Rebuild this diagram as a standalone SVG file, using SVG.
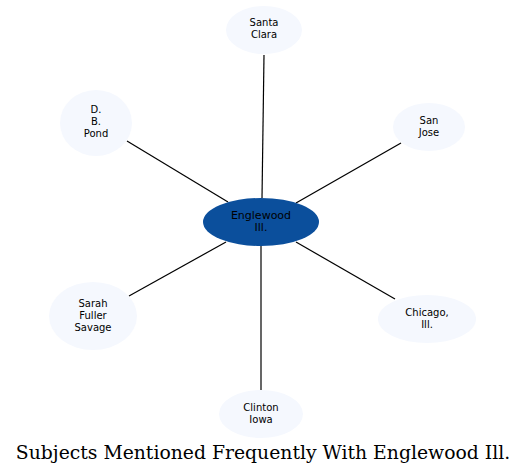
<svg xmlns="http://www.w3.org/2000/svg" width="527" height="476" viewBox="0 0 527 476">
<style>
.n{fill:#f5f8fe;stroke:none}
.c{fill:#0b4f9c;stroke:none}
.t{font-family:"DejaVu Sans",sans-serif;font-size:10px;fill:#000;text-anchor:middle}
.tc{font-family:"DejaVu Sans",sans-serif;font-size:11px;fill:#000;text-anchor:middle}
.e{stroke:#000;stroke-width:1.2;fill:none}
.title{font-family:"DejaVu Serif",serif;font-size:18.8px;fill:#000;text-anchor:middle}
</style>
<rect width="527" height="476" fill="#fff"/>
<g id="edges">
<line class="e" x1="262" y1="198" x2="264" y2="55"/>
<line class="e" x1="296" y1="203" x2="401" y2="143"/>
<line class="e" x1="228" y1="202" x2="127" y2="141"/>
<line class="e" x1="226" y1="242" x2="129" y2="296"/>
<line class="e" x1="296" y1="242" x2="395" y2="299"/>
<line class="e" x1="261" y1="246" x2="261" y2="390"/>
</g>
<g id="englewood">
<ellipse class="c" cx="261" cy="222" rx="58" ry="24"/>
<text class="tc" x="261" y="219">Englewood</text>
<text class="tc" x="261" y="231">Ill.</text>
</g>
<g id="santa-clara">
<ellipse class="n" cx="264" cy="30" rx="38" ry="24"/>
<text class="t" x="264" y="26">Santa</text>
<text class="t" x="264" y="38">Clara</text>
</g>
<g id="san-jose">
<ellipse class="n" cx="429" cy="127" rx="36" ry="24"/>
<text class="t" x="429" y="124">San</text>
<text class="t" x="429" y="136">Jose</text>
</g>
<g id="db-pond">
<ellipse class="n" cx="96" cy="123" rx="36" ry="33"/>
<text class="t" x="96" y="113">D.</text>
<text class="t" x="96" y="125">B.</text>
<text class="t" x="96" y="137">Pond</text>
</g>
<g id="sarah">
<ellipse class="n" cx="93" cy="316" rx="44" ry="34"/>
<text class="t" x="93" y="307">Sarah</text>
<text class="t" x="93" y="319">Fuller</text>
<text class="t" x="93" y="331">Savage</text>
</g>
<g id="chicago">
<ellipse class="n" cx="427" cy="319" rx="49" ry="24"/>
<text class="t" x="427" y="316">Chicago,</text>
<text class="t" x="427" y="328">Ill.</text>
</g>
<g id="clinton">
<ellipse class="n" cx="261" cy="414" rx="42" ry="24"/>
<text class="t" x="261" y="411">Clinton</text>
<text class="t" x="261" y="423">Iowa</text>
</g>
<text class="title" x="263" y="459">Subjects Mentioned Frequently With Englewood Ill.</text>
</svg>
